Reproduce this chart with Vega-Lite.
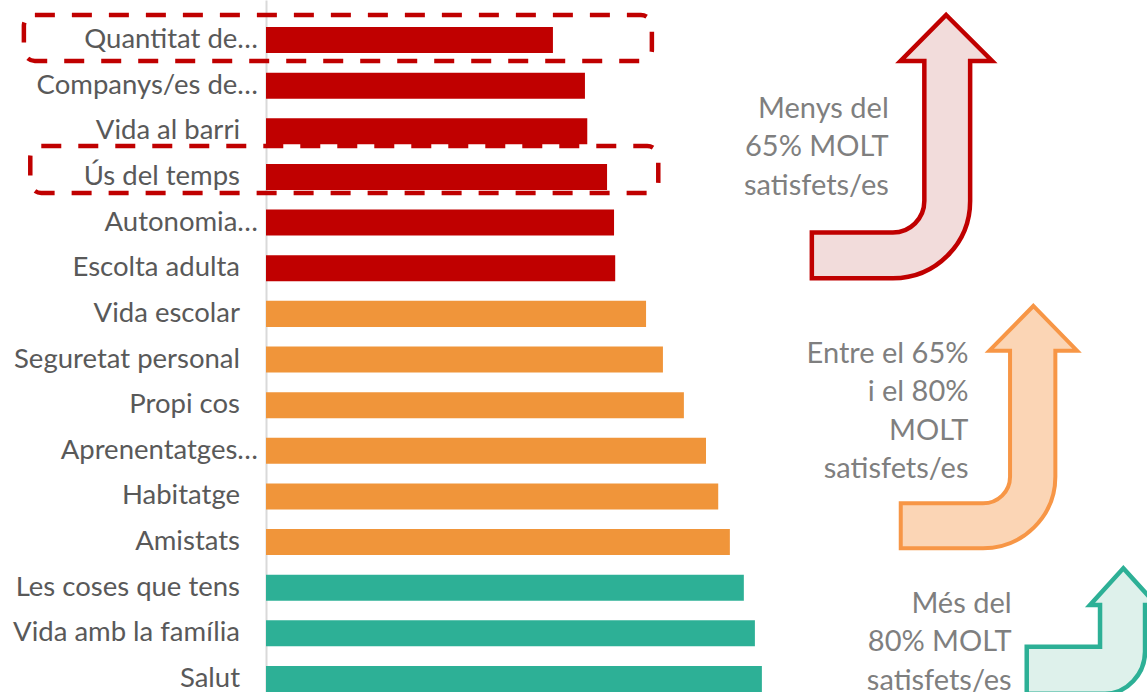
{
  "$schema": "https://vega.github.io/schema/vega-lite/v6.json",
  "width": 881,
  "height": 692,
  "autosize": {"type": "none"},
  "padding": {"left": 266, "top": 0, "right": 0, "bottom": 0},
  "background": "white",
  "config": {"view": {"stroke": null}, "font": "Lato"},
  "layer": [
    {
      "data": {"values": [
        {"item": "Quantitat de…", "pct": 49.3, "grup": "Menys del 65%"},
        {"item": "Companys/es de…", "pct": 54.8, "grup": "Menys del 65%"},
        {"item": "Vida al barri", "pct": 55.2, "grup": "Menys del 65%"},
        {"item": "Ús del temps", "pct": 58.6, "grup": "Menys del 65%"},
        {"item": "Autonomia…", "pct": 59.8, "grup": "Menys del 65%"},
        {"item": "Escolta adulta", "pct": 60.0, "grup": "Menys del 65%"},
        {"item": "Vida escolar", "pct": 65.3, "grup": "Entre el 65% i el 80%"},
        {"item": "Seguretat personal", "pct": 68.2, "grup": "Entre el 65% i el 80%"},
        {"item": "Propi cos", "pct": 71.8, "grup": "Entre el 65% i el 80%"},
        {"item": "Aprenentatges…", "pct": 75.6, "grup": "Entre el 65% i el 80%"},
        {"item": "Habitatge", "pct": 77.7, "grup": "Entre el 65% i el 80%"},
        {"item": "Amistats", "pct": 79.7, "grup": "Entre el 65% i el 80%"},
        {"item": "Les coses que tens", "pct": 82.1, "grup": "Més del 80%"},
        {"item": "Vida amb la família", "pct": 84.0, "grup": "Més del 80%"},
        {"item": "Salut", "pct": 85.2, "grup": "Més del 80%"}
      ]},
      "encoding": {
        "y": {
          "field": "item", "type": "nominal", "sort": null,
          "scale": {"paddingInner": 0.43, "paddingOuter": 0.296, "align": 1},
          "axis": {
            "title": null, "domainColor": "#D9D9D9", "domainWidth": 2,
            "ticks": false, "labels": false
          }
        }
      },
      "layer": [
        {
          "mark": {"type": "bar"},
          "encoding": {
            "x": {"field": "pct", "type": "quantitative", "scale": {"domain": [0, 151.37], "nice": false, "zero": true}, "axis": null},
            "color": {
              "field": "grup", "type": "nominal",
              "scale": {"domain": ["Menys del 65%", "Entre el 65% i el 80%", "Més del 80%"], "range": ["#C00000", "#F0953A", "#2DB096"]},
              "legend": null
            }
          }
        },
        {
          "transform": [{"filter": "indexof(datum.item, '…') >= 0"}],
          "mark": {"type": "text", "align": "right", "baseline": "middle", "dx": -8, "font": "Lato", "fontSize": 27.5, "color": "#595959"},
          "encoding": {
            "text": {"field": "item"},
            "x": {"datum": 0, "type": "quantitative", "scale": {"domain": [0, 151.37], "nice": false}}
          }
        },
        {
          "transform": [{"filter": "indexof(datum.item, '…') < 0"}],
          "mark": {"type": "text", "align": "right", "baseline": "middle", "dx": -26, "font": "Lato", "fontSize": 27.5, "color": "#595959"},
          "encoding": {
            "text": {"field": "item"},
            "x": {"datum": 0, "type": "quantitative", "scale": {"domain": [0, 151.37], "nice": false}}
          }
        }
      ]
    },
    {
      "layer": [
        {
          "data": {"values": [
            {"x1": -41.6, "x2": 66.3, "y1": -0.526, "y2": 0.482},
            {"x1": -40.5, "x2": 67.4, "y1": 2.344, "y2": 3.374}
          ]},
          "mark": {"type": "rect", "fill": null, "filled": false, "stroke": "#C00000", "strokeWidth": 4.5, "strokeDash": [20, 17], "cornerRadius": 11},
          "encoding": {
            "x": {"field": "x1", "type": "quantitative", "scale": {"domain": [0, 151.37], "nice": false}},
            "x2": {"field": "x2"},
            "y": {"field": "y1", "type": "quantitative", "scale": {"domain": [-0.8545, 14.308], "nice": false, "zero": false, "reverse": true}, "axis": null},
            "y2": {"field": "y2"}
          }
        },
        {
          "data": {"values": [{"ax": 107.7, "ay": 3.55}]},
          "mark": {"type": "point", "filled": true, "fill": "#F2DCDB", "stroke": "#C00000", "strokeWidth": 4.5, "opacity": 1, "size": 40000,
            "shape": "M0.533,-1.86 L0.993,-1.4 L0.773,-1.4 L0.773,0 C0.773,0.427 0.427,0.773 0,0.773 L-0.81,0.773 L-0.81,0.315 L0,0.315 C0.174,0.315 0.315,0.174 0.315,0 L0.315,-1.4 L0.077,-1.4 Z"},
          "encoding": {
            "x": {"field": "ax", "type": "quantitative", "scale": {"domain": [0, 151.37], "nice": false}},
            "y": {"field": "ay", "type": "quantitative", "scale": {"domain": [-0.8545, 14.308], "nice": false, "zero": false, "reverse": true}, "axis": null}
          }
        },
        {
          "data": {"values": [{"ax": 123.2, "ay": 9.59}]},
          "mark": {"type": "point", "filled": true, "fill": "#FBD5B5", "stroke": "#F79646", "strokeWidth": 4, "opacity": 1, "size": 40000,
            "shape": "M0.503,-1.707 L0.94,-1.26 L0.723,-1.26 L0.723,0 C0.723,0.396 0.396,0.716 0,0.716 L-0.823,0.716 L-0.823,0.266 L0,0.266 C0.149,0.266 0.27,0.149 0.27,0 L0.27,-1.26 L0.063,-1.26 Z"},
          "encoding": {
            "x": {"field": "ax", "type": "quantitative", "scale": {"domain": [0, 151.37], "nice": false}},
            "y": {"field": "ay", "type": "quantitative", "scale": {"domain": [-0.8545, 14.308], "nice": false, "zero": false, "reverse": true}, "axis": null}
          }
        },
        {
          "data": {"values": [{"ax": 143.3, "ay": 13.315}]},
          "mark": {"type": "point", "filled": true, "fill": "#DEF1EB", "stroke": "#2DB096", "strokeWidth": 4.5, "opacity": 1, "size": 40000,
            "shape": "M0.233,-0.784 L0.566,-0.417 L0.45,-0.417 L0.45,0.05 C0.45,0.27 0.27,0.47 0.05,0.47 L-0.733,0.47 L-0.733,0 L0,0 L0,-0.417 L-0.1,-0.417 Z"},
          "encoding": {
            "x": {"field": "ax", "type": "quantitative", "scale": {"domain": [0, 151.37], "nice": false}},
            "y": {"field": "ay", "type": "quantitative", "scale": {"domain": [-0.8545, 14.308], "nice": false, "zero": false, "reverse": true}, "axis": null}
          }
        },
        {
          "data": {"values": [
            {"txt": "Menys del\n65% MOLT\nsatisfets/es", "ax": 107.0, "ay": 1.731},
            {"txt": "Entre el 65%\ni el 80%\nMOLT\nsatisfets/es", "ax": 120.7, "ay": 7.092},
            {"txt": "Més del\n80% MOLT\nsatisfets/es", "ax": 128.1, "ay": 12.577}
          ]},
          "mark": {"type": "text", "align": "right", "baseline": "alphabetic", "lineBreak": "\n", "lineHeight": 38.5, "font": "Lato", "fontSize": 29, "color": "#7F7F7F"},
          "encoding": {
            "text": {"field": "txt"},
            "x": {"field": "ax", "type": "quantitative", "scale": {"domain": [0, 151.37], "nice": false}},
            "y": {"field": "ay", "type": "quantitative", "scale": {"domain": [-0.8545, 14.308], "nice": false, "zero": false, "reverse": true}, "axis": null}
          }
        }
      ]
    }
  ],
  "resolve": {"scale": {"y": "independent"}}
}
